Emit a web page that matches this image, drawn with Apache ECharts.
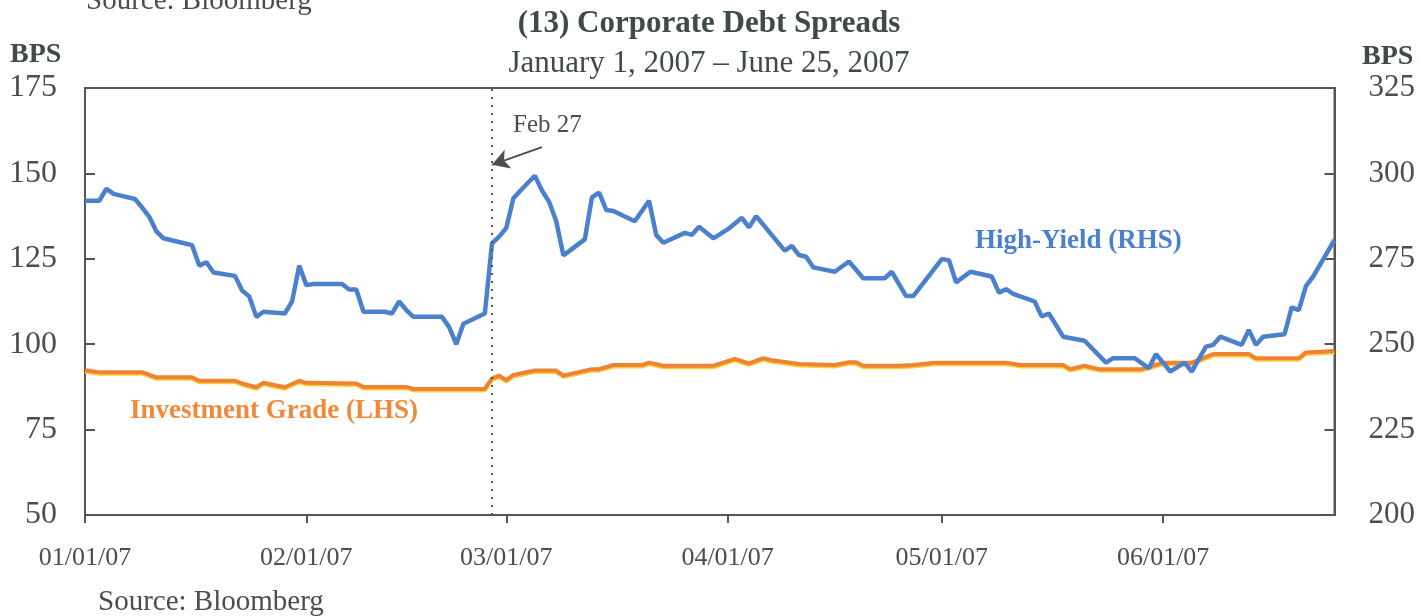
<!DOCTYPE html>
<html><head><meta charset="utf-8">
<script src="https://cdn.jsdelivr.net/npm/echarts@6/dist/echarts.min.js"></script>
<style>html,body{margin:0;padding:0;background:#fff}#c{width:1418px;height:616px}</style>
</head><body><div id="c"></div>
<script>
// High-Yield spreads (RHS, bps)
const hyDates = ['2007-01-01','2007-01-03','2007-01-04','2007-01-05','2007-01-06','2007-01-08','2007-01-09','2007-01-10','2007-01-11','2007-01-12','2007-01-14','2007-01-16','2007-01-17','2007-01-18','2007-01-19','2007-01-22','2007-01-23','2007-01-24','2007-01-25','2007-01-26','2007-01-29','2007-01-30','2007-01-31','2007-02-01','2007-02-02','2007-02-06','2007-02-07','2007-02-08','2007-02-09','2007-02-12','2007-02-13','2007-02-14','2007-02-15','2007-02-16','2007-02-20','2007-02-21','2007-02-22','2007-02-23','2007-02-26','2007-02-27','2007-02-28','2007-03-01','2007-03-02','2007-03-03','2007-03-05','2007-03-06','2007-03-07','2007-03-08','2007-03-09','2007-03-12','2007-03-13','2007-03-14','2007-03-15','2007-03-16','2007-03-19','2007-03-21','2007-03-22','2007-03-23','2007-03-26','2007-03-27','2007-03-28','2007-03-30','2007-04-01','2007-04-03','2007-04-04','2007-04-05','2007-04-09','2007-04-10','2007-04-11','2007-04-12','2007-04-13','2007-04-16','2007-04-18','2007-04-20','2007-04-23','2007-04-24','2007-04-26','2007-04-27','2007-05-01','2007-05-02','2007-05-03','2007-05-05','2007-05-08','2007-05-09','2007-05-10','2007-05-11','2007-05-14','2007-05-15','2007-05-16','2007-05-18','2007-05-21','2007-05-24','2007-05-25','2007-05-28','2007-05-30','2007-05-31','2007-06-02','2007-06-04','2007-06-05','2007-06-07','2007-06-08','2007-06-09','2007-06-12','2007-06-13','2007-06-14','2007-06-15','2007-06-18','2007-06-19','2007-06-20','2007-06-21','2007-06-22','2007-06-25'];
const hyValues = [292,292,295.5,294,293.5,292.5,290,287.3,283,281,280,279,273,274,271,270,265.7,264,258,259.5,259,262.5,273,267.3,267.6,267.6,266,266,259.5,259.5,259,262.5,260,258,258,255,250,256,259,279.5,281.5,284,292.7,295,299.3,295,291.7,286,276,280.7,293,294.4,289.3,289,286,292,282,279.7,282.6,282,284.4,281,283.6,287,284.2,287.5,277.4,278.8,276.1,275.6,272.5,271.2,274.2,269.3,269.3,271.2,264.1,264.1,274.9,274.6,268.1,271.2,269.8,265.1,266.1,264.7,262.5,258.1,259,252.2,251,244.6,245.9,245.9,243,247.1,242,244.6,242,249.3,249.8,252.2,249.8,254.2,249.8,252.2,252.9,260.8,260,267,269.8,280.5];
// Investment Grade spreads (LHS, bps)
const igDates = ['2007-01-01','2007-01-03','2007-01-09','2007-01-11','2007-01-16','2007-01-17','2007-01-22','2007-01-23','2007-01-25','2007-01-26','2007-01-29','2007-01-31','2007-02-01','2007-02-08','2007-02-09','2007-02-15','2007-02-16','2007-02-26','2007-02-27','2007-02-28','2007-03-01','2007-03-02','2007-03-05','2007-03-08','2007-03-09','2007-03-13','2007-03-14','2007-03-16','2007-03-20','2007-03-21','2007-03-23','2007-03-30','2007-04-02','2007-04-04','2007-04-06','2007-04-07','2007-04-11','2007-04-16','2007-04-18','2007-04-19','2007-04-20','2007-04-25','2007-04-27','2007-04-30','2007-05-10','2007-05-12','2007-05-18','2007-05-19','2007-05-21','2007-05-23','2007-05-29','2007-06-01','2007-06-05','2007-06-08','2007-06-13','2007-06-14','2007-06-20','2007-06-21','2007-06-25'];
const igValues = [92.4,91.8,91.8,90.3,90.3,89.3,89.3,88.5,87.4,88.7,87.4,89.3,88.7,88.5,87.5,87.5,86.9,86.9,90,90.8,89.5,91,92.3,92.3,90.8,92.7,92.7,93.9,93.9,94.6,93.7,93.7,95.7,94.4,95.9,95.4,94.2,93.9,94.7,94.7,93.7,93.7,93.9,94.6,94.6,93.9,93.9,92.7,93.7,92.7,92.7,94.6,94.6,97.1,97.1,95.9,95.9,97.6,98];
const leftTicks = [50, 75, 100, 125, 150, 175];
const rightTicks = [200, 225, 250, 275, 300, 325];
const xStart = '2007-01-01', xEnd = '2007-06-25';
const eventDate = '2007-02-27';
const arrowFrom = ['2007-03-06', 157.7], arrowTo = ['2007-02-27', 152.5];

const SERIF = '"Liberation Serif","Times New Roman",serif';
const TXT = '#4a4f4d';
const pad = n => (n < 10 ? '0' : '') + n;
const chart = echarts.init(document.getElementById('c'), null, {renderer: 'canvas'});
chart.setOption({
  animation: false,
  backgroundColor: '#fff',
  title: {
    text: '(13) Corporate Debt Spreads',
    subtext: 'January 1, 2007 \u2013 June 25, 2007',
    left: 'center', top: 3, itemGap: 9,
    textStyle: {fontFamily: SERIF, fontSize: 31, fontWeight: 'bold', color: '#3f4b48'},
    subtextStyle: {fontFamily: SERIF, fontSize: 31, color: '#3f4b48'}
  },
  grid: {left: 85, right: 80, top: 88, bottom: 101, show: true, borderColor: '#555', borderWidth: 2},
  xAxis: {
    type: 'time', min: xStart, max: xEnd,
    minInterval: 28 * 864e5, maxInterval: 31 * 864e5,
    axisLine: {lineStyle: {color: '#555', width: 2}},
    axisTick: {show: true, length: 8, lineStyle: {color: '#555', width: 2}},
    splitLine: {show: false},
    axisLabel: {
      fontFamily: SERIF, fontSize: 26, color: TXT, margin: 30, showMaxLabel: false,
      formatter: v => { const d = new Date(v); return pad(d.getMonth() + 1) + '/' + pad(d.getDate()) + '/' + String(d.getFullYear()).slice(2); }
    }
  },
  yAxis: [
    {type: 'value', min: leftTicks[0], max: leftTicks[leftTicks.length - 1], interval: 25, position: 'left',
     axisLine: {show: true, lineStyle: {color: '#555', width: 2}},
     axisTick: {show: true, inside: true, length: 10, lineStyle: {color: '#555', width: 2}},
     splitLine: {show: false},
     axisLabel: {fontFamily: SERIF, fontSize: 32, color: TXT, margin: 28}},
    {type: 'value', min: rightTicks[0], max: rightTicks[rightTicks.length - 1], interval: 25, position: 'right',
     axisLine: {show: true, lineStyle: {color: '#555', width: 2}},
     axisTick: {show: true, inside: true, length: 10, lineStyle: {color: '#555', width: 2}},
     splitLine: {show: false},
     axisLabel: {fontFamily: SERIF, fontSize: 31, color: TXT, margin: 34}}
  ],
  series: [
    {name: 'Investment Grade (LHS)', type: 'line', yAxisIndex: 0, showSymbol: false, symbol: 'none',
     data: igDates.map((d, i) => [d, igValues[i]]),
     lineStyle: {color: '#f08232', width: 4, shadowColor: '#f6cf3f', shadowBlur: 0, shadowOffsetY: 1.5},
     markLine: {silent: true, symbol: ['none', 'arrow'], symbolSize: [15, 17], label: {show: false},
       lineStyle: {color: '#4a4f4d', width: 2, type: 'solid'},
       data: [[{coord: arrowFrom}, {coord: arrowTo}]]}},
    {name: 'High-Yield (RHS)', type: 'line', yAxisIndex: 1, showSymbol: false, symbol: 'none',
     data: hyDates.map((d, i) => [d, hyValues[i]]),
     lineStyle: {color: '#4a80cc', width: 4.5},
     markLine: {silent: true, symbol: 'none', label: {show: false},
       lineStyle: {color: '#555', width: 2, type: [2, 6]},
       data: [{xAxis: eventDate}]}}
  ],
  graphic: [
    {type: 'text', left: 86, top: -13, style: {text: 'Source: Bloomberg', font: '29px ' + SERIF, fill: TXT}},
    {type: 'text', left: 98, top: 588, style: {text: 'Source: Bloomberg', font: '29px ' + SERIF, fill: TXT}},
    {type: 'text', left: 10, top: 41, style: {text: 'BPS', font: 'bold 28px ' + SERIF, fill: '#3f4b48'}},
    {type: 'text', left: 1362, top: 43, style: {text: 'BPS', font: 'bold 28px ' + SERIF, fill: '#3f4b48'}},
    {type: 'text', left: 513, top: 113, style: {text: 'Feb 27', font: '25px ' + SERIF, fill: TXT}},
    {type: 'text', left: 975, top: 228, style: {text: 'High-Yield (RHS)', font: 'bold 27px ' + SERIF, fill: '#4a80cc'}},
    {type: 'text', left: 130, top: 398, style: {text: 'Investment Grade (LHS)', font: 'bold 27px ' + SERIF, fill: '#f08a3a'}}
  ]
});
</script></body></html>
